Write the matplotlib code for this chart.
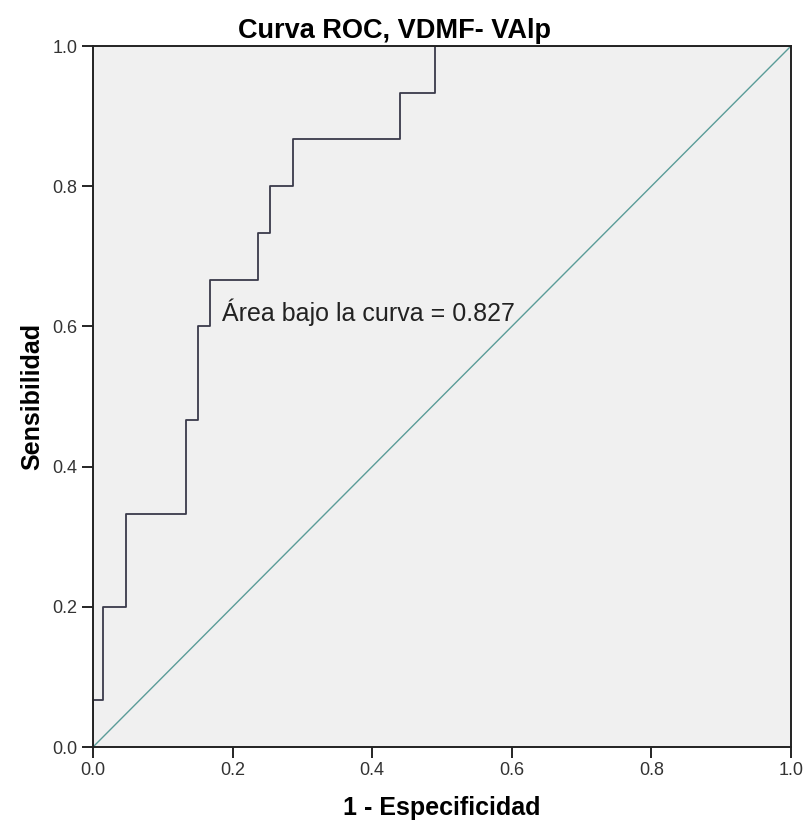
import numpy as np
import matplotlib
matplotlib.use("Agg")
import matplotlib.pyplot as plt

plt.rcParams['font.family'] = ['Liberation Sans', 'DejaVu Sans']

# ROC curve points (1 - specificity, sensitivity)
fpr = [0.0, 0.0, 0.015, 0.015, 0.048, 0.048, 0.133, 0.133, 0.150, 0.150,
       0.168, 0.168, 0.236, 0.236, 0.254, 0.254, 0.287, 0.287, 0.440, 0.440,
       0.490, 0.490, 1.0]
tpr = [0.0, 0.067, 0.067, 0.200, 0.200, 0.333, 0.333, 0.467, 0.467, 0.600,
       0.600, 0.667, 0.667, 0.733, 0.733, 0.800, 0.800, 0.867, 0.867, 0.933,
       0.933, 1.0, 1.0]
ref_line = [0.0, 1.0]
ticks = [0.0, 0.2, 0.4, 0.6, 0.8, 1.0]
auc = 0.827

fig = plt.figure(figsize=(8.05, 8.23), dpi=100)
ax = fig.add_axes([0.1155, 0.0923, 0.867, 0.8517])
ax.set_facecolor('#f0f0f0')

ax.plot(ref_line, ref_line, color='#5a9c98', lw=1.0)
ax.plot(fpr, tpr, color='#3a3a4a', lw=1.3)

ax.text(0.185, 0.62, "Área bajo la curva = %.3f" % auc, fontsize=18,
        color='#222222', va='center')

ax.set_xlim(0, 1)
ax.set_ylim(0, 1)
ax.set_xticks(ticks)
ax.set_yticks(ticks)
ax.set_xticklabels(["%.1f" % t for t in ticks])
ax.set_yticklabels(["%.1f" % t for t in ticks])
ax.tick_params(direction='out', length=8, width=1.2, labelsize=13,
               labelcolor='#333333', pad=3)
for s in ax.spines.values():
    s.set_linewidth(1.4)
    s.set_color('#222222')

fig.text(0.49, 0.962, "Curva ROC, VDMF- VAlp", fontsize=19.5, fontweight='bold',
         ha='center', va='center')
ax.set_xlabel("1 - Especificidad", fontsize=18, fontweight='bold', labelpad=12)
ax.set_ylabel("Sensibilidad", fontsize=18, fontweight='bold', labelpad=6)

fig.savefig("out.png", dpi=100, facecolor='white')
